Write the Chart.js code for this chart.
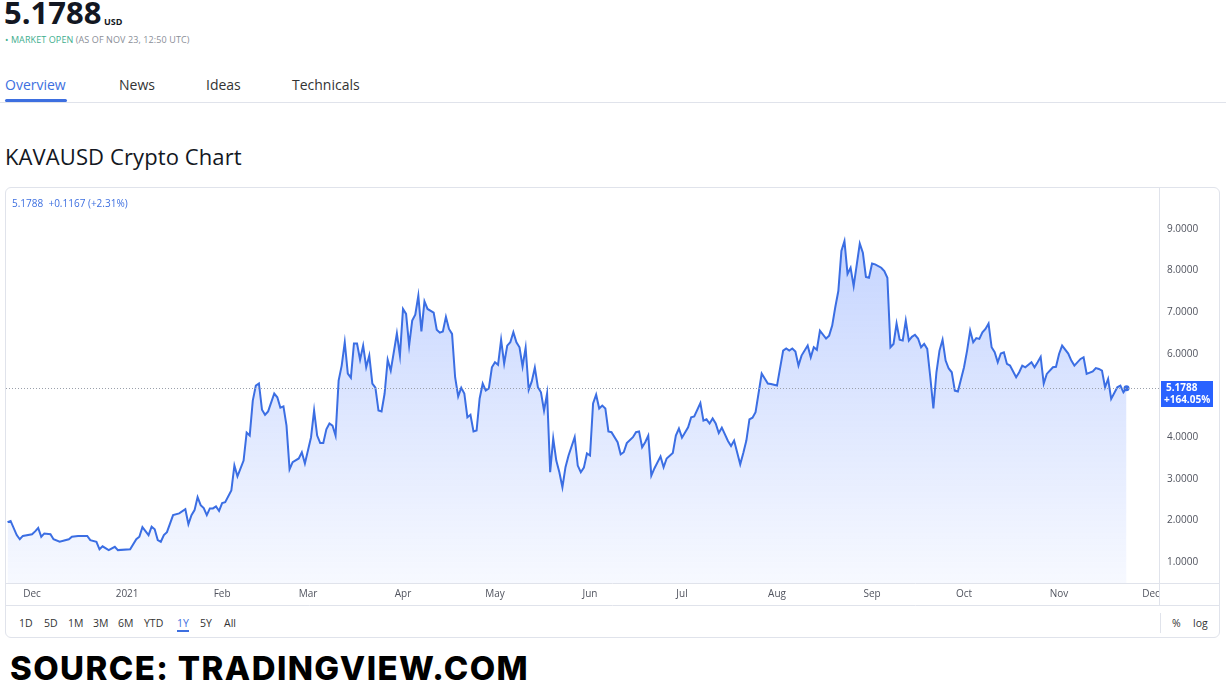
<!DOCTYPE html>
<html>
<head>
<meta charset="utf-8">
<title>KAVAUSD Crypto Chart</title>
<script src="https://cdn.jsdelivr.net/npm/chart.js@4.4.0/dist/chart.umd.min.js"></script>
<style>
  body { margin: 0; width: 1226px; height: 687px; background: #fff; position: relative; overflow: hidden;
         font-family: 'Open Sans', sans-serif; color: #131722; }
  .t { position: absolute; white-space: nowrap; line-height: 1; }
  .rb { position: absolute; top: 430px; white-space: nowrap; line-height: 1; font-size: 10.5px; color: #333; }
  #box { position: absolute; left: 5px; top: 187px; width: 1215px; height: 451px; box-sizing: border-box;
         border: 1px solid #e0e3eb; border-radius: 6px; }
  #wrap { position: absolute; left: 0; top: 0; width: 1213px; height: 418px; }
</style>
</head>
<body>
<div class="t" style="left:4px; top:-3px; font-size:31px; font-weight:700;">5.1788</div>
<div class="t" style="left:104px; top:17px; font-size:9px; font-weight:700;">USD</div>
<div class="t" style="left:5px; top:35px; font-size:9px; color:#8a8e97; letter-spacing:0.1px;"><span style="color:#3eae8e;">&bull; MARKET OPEN</span> (AS OF NOV 23, 12:50 UTC)</div>

<div class="t" style="left:5px; top:78px; font-size:14px; color:#3d6fe0;">Overview</div>
<div class="t" style="left:119px; top:78px; font-size:14px; color:#333;">News</div>
<div class="t" style="left:206px; top:78px; font-size:14px; color:#333;">Ideas</div>
<div class="t" style="left:292px; top:78px; font-size:14px; color:#333;">Technicals</div>
<div style="position:absolute; left:0; top:102px; width:1226px; height:1px; background:#e0e3eb;"></div>
<div style="position:absolute; left:5px; top:99px; width:62px; height:3px; background:#3d6fe0; border-radius:2px;"></div>

<div class="t" style="left:5px; top:145px; font-size:22px; color:#131722; letter-spacing:0.1px;">KAVAUSD Crypto Chart</div>

<div id="box">
  <div id="wrap"><canvas id="graficoKava"></canvas></div>
  <div class="t" style="left:6px; top:10px; font-size:10px; color:#3d6fe0;">5.1788&nbsp; +0.1167 (+2.31%)</div>
  <div class="rb" style="left:13px;">1D</div>
  <div class="rb" style="left:38px;">5D</div>
  <div class="rb" style="left:62px;">1M</div>
  <div class="rb" style="left:87px;">3M</div>
  <div class="rb" style="left:112px;">6M</div>
  <div class="rb" style="left:138px;">YTD</div>
  <div class="rb" style="left:171px; color:#3d6fe0; border-bottom:2px solid #3d6fe0; padding-bottom:1px;">1Y</div>
  <div class="rb" style="left:194px;">5Y</div>
  <div class="rb" style="left:218px;">All</div>
  <div style="position:absolute; left:1154px; top:425px; width:1px; height:20px; background:#e0e3eb;"></div>
  <div class="rb" style="left:1166px;">%</div>
  <div class="rb" style="left:1187px;">log</div>
</div>

<div class="t" style="left:10px; top:652px; font-family:Inter, sans-serif; font-size:33px; font-weight:800; color:#000; letter-spacing:1.4px;">SOURCE: TRADINGVIEW.COM</div>

<script>
// dias contados a partir de 1 dez 2020 (negativo = novembro 2020)
const days = [
  -8, -7, -5, -4, -3, 0, 1, 2, 3, 4,
  6, 7, 9, 12, 13, 15, 18, 19, 21, 22,
  23, 25, 27, 28, 32, 34, 35, 36, 38, 39,
  40, 41, 42, 43, 44, 46, 48, 50, 51, 52,
  53, 54, 55, 56, 57, 58, 59, 60, 61, 62,
  63, 65, 66, 67, 69, 70, 71, 72, 73, 74,
  75, 76, 77, 79, 80, 81, 82, 83, 84, 85,
  87, 88, 89, 91, 92, 93, 94, 95, 96, 97,
  98, 99, 100, 101, 102, 103, 104, 105, 106, 107,
  108, 109, 110, 111, 112, 113, 114, 115, 116, 117,
  119, 120, 121, 122, 123, 124, 125, 126, 127, 128,
  129, 131, 132, 133, 134, 135, 136, 137, 138, 139,
  140, 141, 142, 143, 144, 145, 146, 147, 148, 149,
  150, 151, 152, 153, 154, 155, 156, 157, 158, 159,
  160, 161, 162, 163, 164, 165, 166, 167, 168, 169,
  170, 171, 172, 173, 174, 175, 177, 178, 179, 180,
  181, 182, 183, 184, 185, 186, 187, 188, 189, 191,
  192, 193, 194, 196, 197, 198, 199, 200, 201, 202,
  203, 205, 206, 207, 209, 210, 211, 212, 214, 215,
  216, 218, 219, 220, 221, 222, 223, 224, 225, 227,
  228, 229, 231, 232, 233, 234, 235, 236, 238, 240,
  241, 243, 245, 246, 247, 248, 249, 250, 251, 253,
  254, 255, 256, 257, 259, 260, 261, 262, 263, 264,
  265, 266, 267, 268, 270, 271, 272, 273, 274, 275,
  277, 278, 279, 280, 281, 282, 283, 284, 285, 286,
  287, 288, 289, 290, 291, 292, 293, 294, 295, 296,
  297, 298, 299, 300, 301, 302, 304, 305, 306, 307,
  308, 309, 310, 311, 312, 313, 314, 315, 316, 317,
  318, 319, 321, 322, 323, 324, 326, 327, 328, 329,
  330, 331, 333, 334, 335, 336, 338, 339, 340, 342,
  343, 344, 346, 347, 348, 349, 350, 351, 352, 354,
  355, 356, 357
];

const prices = [
  1.96, 1.99, 1.65, 1.55, 1.63, 1.67, 1.74, 1.82, 1.61, 1.69,
  1.67, 1.55, 1.49, 1.55, 1.61, 1.63, 1.63, 1.53, 1.49, 1.31,
  1.38, 1.29, 1.37, 1.29, 1.31, 1.55, 1.61, 1.84, 1.65, 1.85,
  1.79, 1.53, 1.49, 1.65, 1.72, 2.13, 2.17, 2.27, 1.91, 2.13,
  2.25, 2.56, 2.37, 2.30, 2.13, 2.29, 2.29, 2.34, 2.23, 2.42,
  2.44, 2.72, 3.32, 3.06, 3.44, 4.11, 4.04, 4.88, 5.24, 5.29,
  4.66, 4.54, 4.62, 5.05, 4.96, 4.71, 4.74, 4.28, 3.23, 3.40,
  3.49, 3.64, 3.37, 4.00, 4.64, 4.04, 3.86, 3.86, 4.19, 4.33,
  4.28, 4.04, 5.36, 5.72, 6.28, 5.53, 5.43, 6.25, 6.25, 5.86,
  6.20, 5.68, 5.96, 5.29, 5.19, 4.64, 4.62, 5.05, 5.86, 5.60,
  6.49, 5.96, 7.08, 6.96, 6.20, 6.80, 6.94, 7.40, 6.54, 7.26,
  7.08, 6.99, 6.58, 6.51, 6.54, 6.89, 6.60, 6.48, 5.44, 4.98,
  5.19, 5.05, 4.48, 4.54, 4.14, 4.16, 4.93, 5.29, 5.12, 5.17,
  5.68, 5.80, 5.74, 6.34, 5.77, 6.20, 6.28, 6.52, 6.28, 6.16,
  5.70, 6.15, 5.14, 5.34, 5.67, 5.20, 5.08, 4.64, 5.05, 3.16,
  3.97, 3.44, 3.16, 2.80, 3.28, 3.56, 4.00, 3.32, 3.16, 3.27,
  3.61, 3.56, 4.81, 5.02, 4.69, 4.76, 4.69, 4.14, 4.12, 3.88,
  3.59, 3.64, 3.86, 4.00, 4.12, 4.14, 3.76, 3.88, 4.04, 3.08,
  3.25, 3.54, 3.28, 3.49, 3.62, 4.04, 4.21, 3.99, 4.24, 4.48,
  4.50, 4.82, 4.40, 4.43, 4.33, 4.45, 4.33, 4.10, 4.23, 3.91,
  3.79, 3.92, 3.35, 3.62, 3.92, 4.43, 4.47, 4.60, 5.53, 5.29,
  5.28, 5.24, 6.08, 6.13, 6.08, 6.13, 6.06, 5.72, 5.96, 6.20,
  5.92, 6.16, 6.10, 6.56, 6.37, 6.44, 6.68, 7.12, 7.51, 8.47,
  8.71, 7.92, 8.07, 7.63, 8.65, 8.43, 7.85, 7.83, 8.17, 8.15,
  8.07, 7.99, 7.83, 6.16, 6.24, 6.73, 6.34, 6.32, 6.80, 6.32,
  6.41, 6.46, 6.37, 6.16, 6.24, 6.12, 5.44, 4.69, 5.56, 6.08,
  6.34, 5.84, 5.65, 5.56, 5.12, 5.10, 5.68, 6.08, 6.56, 6.28,
  6.38, 6.36, 6.52, 6.60, 6.73, 6.16, 6.04, 5.80, 6.01, 6.04,
  5.76, 5.72, 5.44, 5.56, 5.72, 5.68, 5.80, 5.68, 5.80, 5.93,
  5.29, 5.52, 5.68, 5.69, 6.00, 6.20, 6.01, 5.84, 5.72, 5.88,
  5.92, 5.52, 5.58, 5.66, 5.64, 5.60, 5.20, 5.40, 4.92, 5.20,
  5.24, 5.08, 5.1788
];

// inicio de cada mes (dias desde 1 dez 2020) e rotulos
const monthTicks = [0, 31, 62, 90, 121, 151, 182, 212, 243, 274, 304, 335, 365];
const monthLabels = ['Dec', '2021', 'Feb', 'Mar', 'Apr', 'May', 'Jun', 'Jul', 'Aug', 'Sep', 'Oct', 'Nov', 'Dec'];
const priceTicks = [1, 2, 3, 4, 5, 6, 7, 8, 9];
const lastLabel = ['5.1788', '+164.05%'];

const azul = '#3b6ee3';
const cinzaLinha = '#e0e3eb';
const fonteEixo = { family: "'Open Sans', sans-serif", size: 10 };

// linhas separadoras, linha pontilhada e etiqueta do ultimo preco
const extras = {
  id: 'extras',
  afterDatasetsDraw(chart) {
    const { ctx, chartArea, scales } = chart;
    const last = prices[prices.length - 1];
    const py = Math.round(scales.y.getPixelForValue(last));
    ctx.save();
    ctx.strokeStyle = '#9aa0ab';
    ctx.lineWidth = 1;
    ctx.setLineDash([1, 2]);
    ctx.beginPath();
    ctx.moveTo(chartArea.left, py + 0.5);
    ctx.lineTo(chartArea.right, py + 0.5);
    ctx.stroke();
    ctx.setLineDash([]);

    ctx.strokeStyle = cinzaLinha;
    ctx.beginPath();
    ctx.moveTo(Math.round(chartArea.right) + 0.5, 0);
    ctx.lineTo(Math.round(chartArea.right) + 0.5, chart.height);
    ctx.moveTo(0, Math.round(chartArea.bottom) + 0.5);
    ctx.lineTo(chart.width, Math.round(chartArea.bottom) + 0.5);
    ctx.moveTo(0, chart.height - 0.5);
    ctx.lineTo(chart.width, chart.height - 0.5);
    ctx.stroke();

    const bx = chartArea.right + 2;
    ctx.fillStyle = '#2962ff';
    ctx.fillRect(bx, py - 7, 52, 26);
    ctx.fillStyle = '#fff';
    ctx.font = "bold 10px 'Open Sans', sans-serif";
    ctx.textBaseline = 'middle';
    ctx.fillText(lastLabel[0], bx + 5, py);
    ctx.fillText(lastLabel[1], bx + 3, py + 12);
    ctx.restore();
  }
};

// tira o espaco extra que o Chart.js reserva para os rotulos
const semPadding = (s) => { s.paddingTop = 0; s.paddingBottom = 0; s.paddingLeft = 0; s.paddingRight = 0; };

const ctx = document.getElementById('graficoKava');

new Chart(ctx, {
  type: 'line',
  data: {
    datasets: [{
      label: 'KAVAUSD',
      data: days.map((d, i) => ({ x: d, y: prices[i] })),
      borderColor: azul,
      borderWidth: 2,
      tension: 0,
      fill: 'start',
      backgroundColor: (c) => {
        const a = c.chart.chartArea;
        if (!a) return 'rgba(41,98,255,0.1)';
        const g = c.chart.ctx.createLinearGradient(0, a.top, 0, a.bottom);
        g.addColorStop(0, 'rgba(41,98,255,0.30)');
        g.addColorStop(1, 'rgba(41,98,255,0.04)');
        return g;
      },
      pointRadius: (c) => (c.dataIndex === days.length - 1 ? 3 : 0),
      pointBackgroundColor: azul,
      pointBorderWidth: 0
    }]
  },
  options: {
    responsive: true,
    maintainAspectRatio: false,
    animation: false,
    layout: { autoPadding: false, padding: { top: 1, left: 0, right: 0, bottom: 0 } },
    plugins: { legend: { display: false }, tooltip: { enabled: false } },
    scales: {
      x: {
        type: 'linear',
        min: -8.5,
        max: 367.6,
        afterBuildTicks: (s) => { s.ticks = monthTicks.map(v => ({ value: v })); },
        afterFit: (s) => { s.height = 23; semPadding(s); },
        grid: { display: false, drawTicks: false },
        border: { display: false },
        ticks: {
          autoSkip: false,
          maxRotation: 0,
          padding: 5,
          color: '#50535e',
          font: fonteEixo,
          callback: (v) => monthLabels[monthTicks.indexOf(v)]
        }
      },
      y: {
        position: 'right',
        min: 0.5,
        max: 9.96,
        afterBuildTicks: (s) => { s.ticks = priceTicks.map(v => ({ value: v })); },
        afterFit: (s) => { s.width = 60; semPadding(s); },
        grid: { display: false, drawTicks: false },
        border: { display: false },
        ticks: {
          padding: 8,
          color: '#50535e',
          font: fonteEixo,
          callback: (v) => v.toFixed(4)
        }
      }
    }
  },
  plugins: [extras]
});
</script>
</body>
</html>
